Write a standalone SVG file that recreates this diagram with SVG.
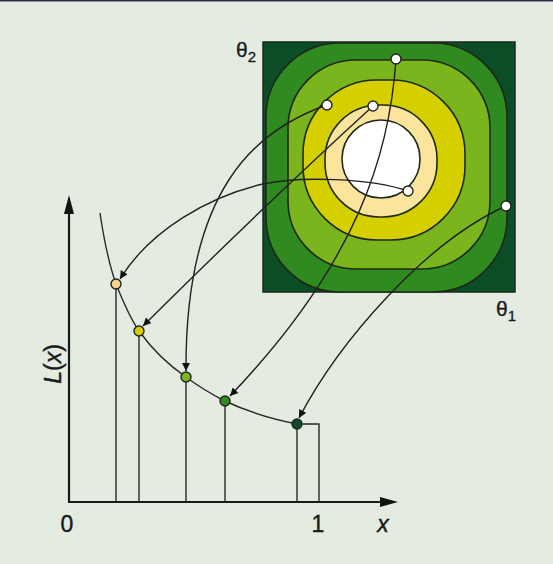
<svg xmlns="http://www.w3.org/2000/svg" width="553" height="564" viewBox="0 0 553 564">
<style>
.bg{fill:#e4ebe1}
.ax{stroke:#1a1a1a;stroke-width:2.2;fill:none}
.vl{stroke:#2a2a2a;stroke-width:1.4;fill:none}
.cv{stroke:#2a2a2a;stroke-width:1.4;fill:none}
.cn{stroke:#222;stroke-width:1.4;fill:none;marker-end:url(#ah)}
.ct{stroke:#1e2a18;stroke-width:1.6}
.wd{fill:#fff;stroke:#222;stroke-width:1.4}
.pd{stroke:#222;stroke-width:1.4}
.lb{font-family:"Liberation Sans",Arial,sans-serif;font-size:23px;fill:#1a1a1a;stroke:#1a1a1a;stroke-width:0.4}
.th{font-family:"Liberation Sans",Arial,sans-serif;font-size:21px;fill:#1a1a1a;stroke:#1a1a1a;stroke-width:0.3}
</style>
<defs>
<marker id="ah" viewBox="0 0 10 10" refX="10" refY="5" markerWidth="9" markerHeight="8" markerUnits="userSpaceOnUse" orient="auto">
<path d="M0,0 L10,5 L0,10 z" fill="#111"/>
</marker>
</defs>
<rect class="bg" x="0" y="0" width="553" height="564"/>
<rect x="0" y="0" width="553" height="1.5" fill="#2a2f45"/>

<g id="contour-map">
<rect x="263" y="42" width="252" height="250" fill="#0b4d27" stroke="#1a2a1a" stroke-width="1.5"/>
<rect class="ct" x="266" y="43" width="241" height="249" rx="74" ry="74" fill="#2f8a1f"/>
<rect class="ct" x="288" y="60" width="202" height="209" rx="68" ry="68" fill="#7ab51d"/>
<rect class="ct" x="303" y="80" width="162" height="160" rx="74" ry="74" fill="#d6cf00"/>
<rect class="ct" x="325" y="105" width="112" height="112" rx="54" ry="54" fill="#fbe59c"/>
<circle class="ct" cx="381" cy="159" r="39" fill="#ffffff"/>
</g>

<g id="axes">
<line class="ax" x1="69" y1="210" x2="69" y2="502"/>
<line class="ax" x1="68" y1="502" x2="383" y2="502"/>
<path d="M69,195 L64,214 L74,214 z" fill="#111"/>
<path d="M398,502 L380,497 L380,507 z" fill="#111"/>
</g>

<g id="curve">
<path class="cv" d="M100,213 C104,240 109,264 116,284 C124,304 130,318 139,331 C152,349 167,364 186,377 C198,386 211,394 225,401 C248,412 272,419 297,424 L319,424 L319,502"/>
<line class="vl" x1="116" y1="284" x2="116" y2="502"/>
<line class="vl" x1="139" y1="331" x2="139" y2="502"/>
<line class="vl" x1="186" y1="377" x2="186" y2="502"/>
<line class="vl" x1="225" y1="401" x2="225" y2="502"/>
<line class="vl" x1="297" y1="424" x2="297" y2="502"/>
</g>

<g id="connectors">
<path class="cn" d="M408,191 C370,178 300,176 263,184 C210,196 150,230 120,279"/>
<path class="cn" d="M373,106 Q270,200 143,326"/>
<path class="cn" d="M327,105 C255,130 185,190 186,371"/>
<path class="cn" d="M396,59 C390,150 360,260 230,396"/>
<path class="cn" d="M506,206 C426,242 340,340 299,418"/>
</g>

<g id="theta-points">
<circle class="wd" cx="396" cy="59" r="5"/>
<circle class="wd" cx="327" cy="105" r="5"/>
<circle class="wd" cx="373" cy="106" r="5"/>
<circle class="wd" cx="408" cy="191" r="5"/>
<circle class="wd" cx="506" cy="206" r="5"/>
</g>

<g id="curve-points">
<circle class="pd" cx="116" cy="284" r="5" fill="#f3d58a"/>
<circle class="pd" cx="139" cy="331" r="5" fill="#d6cc00"/>
<circle class="pd" cx="186" cy="377" r="5" fill="#7ab51d"/>
<circle class="pd" cx="225" cy="401" r="5" fill="#2f8a1f"/>
<circle class="pd" cx="297" cy="424" r="5" fill="#0b4d27"/>
</g>

<g id="labels">
<text class="lb" x="67" y="532" text-anchor="middle">0</text>
<text class="lb" x="318" y="532" text-anchor="middle">1</text>
<text class="lb" x="383" y="532" text-anchor="middle" font-style="italic">x</text>
<text class="lb" x="61" y="364" text-anchor="middle" font-size="20" transform="rotate(-90 61 364)"><tspan font-style="italic">L</tspan>(<tspan font-style="italic">x</tspan>)</text>
<text class="th" x="236" y="57">θ<tspan font-size="15" dy="5">2</tspan></text>
<text class="th" x="496" y="316">θ<tspan font-size="15" dy="5">1</tspan></text>
</g>
</svg>
